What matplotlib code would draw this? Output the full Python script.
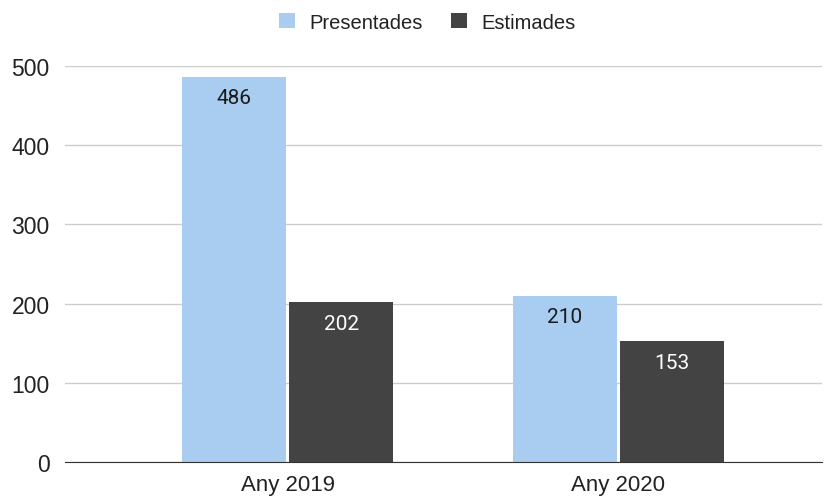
import numpy as np
import matplotlib
matplotlib.use("Agg")
from matplotlib import pyplot as plt

plt.rcParams['font.family'] = ['Liberation Sans', 'DejaVu Sans']

categories = ["Any 2019", "Any 2020"]
presentades = [486, 210]
estimades = [202, 153]
yticks = [0, 100, 200, 300, 400, 500]

fig = plt.figure(figsize=(8.36, 5.02), dpi=100)
ax = fig.add_axes([0.0778, 0.0777, 0.905, 0.7888])

x = np.arange(len(categories))
w = 0.314
off = 0.162
b1 = ax.bar(x - off, presentades, w, color='#a8cdf0', label='Presentades', zorder=3)
b2 = ax.bar(x + off, estimades, w, color='#434343', label='Estimades', zorder=3)

# value labels inside the top of each bar
for xi, v in zip(x - off, presentades):
    ax.annotate(str(v), (xi, v), xytext=(0, -15), textcoords='offset points',
                ha='center', va='center', fontsize=15, color='#1a1a1a',
                family=['Roboto', 'DejaVu Sans'], zorder=4)
for xi, v in zip(x + off, estimades):
    ax.annotate(str(v), (xi, v), xytext=(0, -15.5), textcoords='offset points',
                ha='center', va='center', fontsize=15, color='white',
                family=['Roboto', 'DejaVu Sans'], zorder=4)

ax.set_xlim(-0.673, 1.615)
ax.set_ylim(0, 500)
ax.set_yticks(yticks)
ax.set_xticks(x)
ax.set_xticklabels(categories)
ax.tick_params(axis='both', length=0, colors='#222222')
ax.tick_params(axis='x', pad=9, labelsize=16)
ax.tick_params(axis='y', pad=11, labelsize=16.5)
ax.grid(axis='y', color='#cccccc', linewidth=1, zorder=0)
for s in ['top', 'right', 'left']:
    ax.spines[s].set_visible(False)
ax.spines['bottom'].set_color('#333333')
ax.spines['bottom'].set_zorder(5)

fig.legend(handles=[b1, b2], loc='center', bbox_to_anchor=(0.511, 0.954), ncol=2,
           frameon=False, fontsize=14.5, handlelength=0.82, handleheight=0.82,
           columnspacing=1.4, handletextpad=0.7, labelcolor='#222222')

fig.savefig("out.png", dpi=100)
